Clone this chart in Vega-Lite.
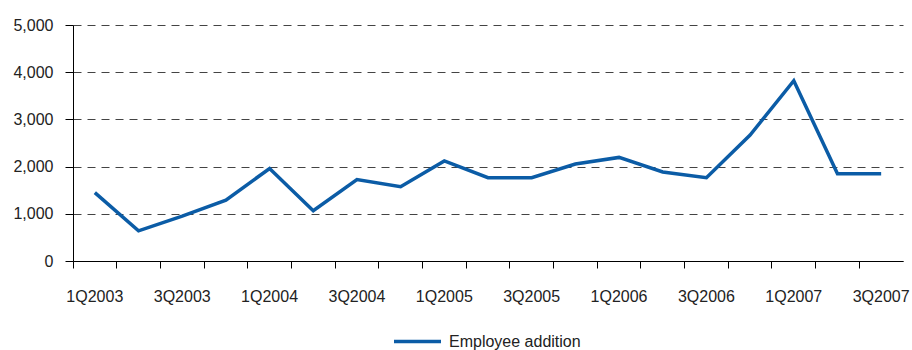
{
  "$schema": "https://vega.github.io/schema/vega-lite/v6.json",
  "width": 830,
  "height": 236,
  "autosize": {"type": "none"},
  "padding": {"left": 73, "top": 25, "right": 9, "bottom": 89},
  "background": "white",
  "config": {
    "view": {"stroke": null},
    "font": "Liberation Sans"
  },
  "data": {
    "values": [
      {"quarter": "1Q2003", "value": 1450, "series": "Employee addition"},
      {"quarter": "2Q2003", "value": 640, "series": "Employee addition"},
      {"quarter": "3Q2003", "value": 950, "series": "Employee addition"},
      {"quarter": "4Q2003", "value": 1290, "series": "Employee addition"},
      {"quarter": "1Q2004", "value": 1960, "series": "Employee addition"},
      {"quarter": "2Q2004", "value": 1065, "series": "Employee addition"},
      {"quarter": "3Q2004", "value": 1725, "series": "Employee addition"},
      {"quarter": "4Q2004", "value": 1575, "series": "Employee addition"},
      {"quarter": "1Q2005", "value": 2120, "series": "Employee addition"},
      {"quarter": "2Q2005", "value": 1765, "series": "Employee addition"},
      {"quarter": "3Q2005", "value": 1765, "series": "Employee addition"},
      {"quarter": "4Q2005", "value": 2055, "series": "Employee addition"},
      {"quarter": "1Q2006", "value": 2195, "series": "Employee addition"},
      {"quarter": "2Q2006", "value": 1885, "series": "Employee addition"},
      {"quarter": "3Q2006", "value": 1765, "series": "Employee addition"},
      {"quarter": "4Q2006", "value": 2670, "series": "Employee addition"},
      {"quarter": "1Q2007", "value": 3820, "series": "Employee addition"},
      {"quarter": "2Q2007", "value": 1850, "series": "Employee addition"},
      {"quarter": "3Q2007", "value": 1850, "series": "Employee addition"}
    ]
  },
  "mark": {"type": "line", "strokeWidth": 3.5},
  "encoding": {
    "x": {
      "field": "quarter",
      "type": "ordinal",
      "sort": null,
      "scale": {"type": "band", "paddingInner": 0, "paddingOuter": 0},
      "axis": {
        "title": null,
        "bandPosition": 0,
        "labelAngle": 0,
        "labelOverlap": false,
        "labelExpr": "(slice(datum.value,0,1)=='1' || slice(datum.value,0,1)=='3') ? datum.value : ''",
        "labelFontSize": 16,
        "labelColor": "#222222",
        "labelPadding": 20,
        "tickSize": 7,
        "tickColor": "#000000",
        "domainColor": "#000000",
        "grid": false
      }
    },
    "y": {
      "field": "value",
      "type": "quantitative",
      "scale": {"domain": [0, 5000]},
      "axis": {
        "title": null,
        "values": [0, 1000, 2000, 3000, 4000, 5000],
        "format": ",d",
        "labelFontSize": 16,
        "labelColor": "#222222",
        "labelPadding": 12,
        "tickSize": 8,
        "tickColor": "#000000",
        "domainColor": "#000000",
        "grid": true,
        "gridColor": "#444444",
        "gridDash": [8, 6],
        "gridWidth": 1
      }
    },
    "color": {
      "field": "series",
      "type": "nominal",
      "scale": {"range": ["#0b5ca6"]},
      "legend": {
        "title": null,
        "orient": "none",
        "legendX": 319,
        "legendY": 291,
        "padding": 0,
        "direction": "horizontal",
        "symbolType": "stroke",
        "symbolSize": 2209,
        "symbolStrokeWidth": 3.5,
        "labelFontSize": 16,
        "labelColor": "#222222",
        "labelOffset": 6
      }
    }
  }
}
